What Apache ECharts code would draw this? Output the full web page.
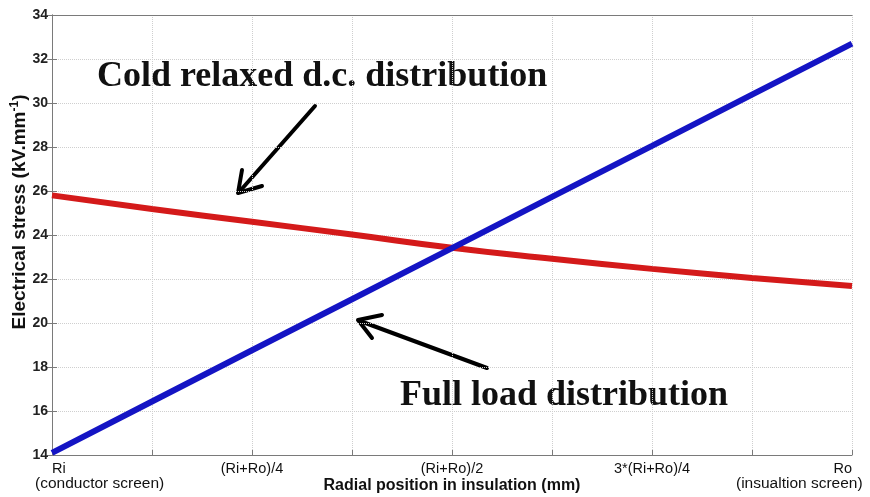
<!DOCTYPE html>
<html>
<head>
<meta charset="UTF-8">
<title>Electrical stress</title>
<script src="https://cdn.jsdelivr.net/npm/echarts@6/dist/echarts.min.js"></script>
<style>
  html, body { margin: 0; padding: 0; background: #fff; }
  #chart { width: 870px; height: 497px; }
</style>
</head>
<body>
<div id="chart"></div>
<script>
// positions along the insulation, in eighths of the radial span
const positions = [0, 1, 2, 3, 4, 5, 6, 7, 8];
const tickLabels = { 0: 'Ri', 2: '(Ri+Ro)/4', 4: '(Ri+Ro)/2', 6: '3*(Ri+Ro)/4', 8: 'Ro' };
const coldRelaxed = [25.8, 25.18, 24.6, 24.02, 23.42, 22.92, 22.46, 22.05, 21.68];
const fullLoad = [14.1, 16.43, 18.76, 21.08, 23.4, 25.73, 28.05, 30.38, 32.7];

const frame = '#7a7a7a';
const chart = echarts.init(document.getElementById('chart'), null, { renderer: 'canvas' });

function pairs(vals) {
  return positions.map((p, i) => [p, vals[i]]);
}

const sans = 'Arial, "Liberation Sans", sans-serif';
const serif = '"Liberation Serif", "Times New Roman", serif';

chart.setOption({
  animation: false,
  backgroundColor: '#fff',
  grid: { left: 52, right: 18, top: 15, bottom: 42, containLabel: false, outerBoundsMode: 'none' },
  xAxis: [{
    type: 'value', min: 0, max: 8, interval: 1,
    name: 'Radial position in insulation (mm)',
    nameLocation: 'middle', nameGap: 23, nameMoveOverlap: false,
    nameTextStyle: { fontFamily: sans, fontWeight: 'bold', fontSize: 16, color: '#111' },
    axisLine: { lineStyle: { color: frame } },
    axisTick: { inside: true, length: 5, lineStyle: { color: frame } },
    axisLabel: {
      fontFamily: sans, fontSize: 14.5, color: '#111', margin: 6,
      alignMinLabel: 'left', alignMaxLabel: 'right',
      formatter: v => tickLabels[v] || ''
    },
    splitLine: { show: true, lineStyle: { color: '#cfcfcf', type: 'dotted' } }
  }, {
    type: 'value', position: 'top', min: 0, max: 8, interval: 1,
    axisLine: { lineStyle: { color: frame } },
    axisTick: { show: false }, axisLabel: { show: false }, splitLine: { show: false }
  }],
  yAxis: [{
    type: 'value', min: 14, max: 34, interval: 2,
    name: '{a|Electrical stress (kV.mm}{s|-1}{a|)}',
    nameLocation: 'middle', nameGap: 22, nameMoveOverlap: false,
    nameTextStyle: {
      padding: [0, 0, 0, 46],
      rich: {
        a: { fontFamily: sans, fontWeight: 'bold', fontSize: 19, color: '#111' },
        s: { fontFamily: sans, fontWeight: 'bold', fontSize: 12, color: '#111', verticalAlign: 'top', padding: [0, 0, 9, 0] }
      }
    },
    axisLine: { show: true, lineStyle: { color: frame } },
    axisTick: { inside: true, length: 5, lineStyle: { color: frame } },
    axisLabel: { fontFamily: sans, fontWeight: 'bold', fontSize: 14, color: '#222', margin: 4 },
    splitLine: { show: true, lineStyle: { color: '#cfcfcf', type: 'dotted' } }
  }, {
    type: 'value', position: 'right', min: 14, max: 34, interval: 2,
    axisLine: { show: true, lineStyle: { color: frame } },
    axisTick: { show: true, inside: true, length: 5, lineStyle: { color: frame } },
    axisLabel: { show: false }, splitLine: { show: false }
  }],
  series: [{
    name: 'Cold relaxed d.c. distribution',
    type: 'line', data: pairs(coldRelaxed), smooth: true,
    showSymbol: false, lineStyle: { color: '#d41a1a', width: 6 }
  }, {
    name: 'Full load distribution',
    type: 'line', data: pairs(fullLoad),
    showSymbol: false, lineStyle: { color: '#1414c4', width: 6 }
  }],
  graphic: [
    { type: 'text', left: 35, top: 476,
      style: { text: '(conductor screen)', font: '15.5px ' + sans, fill: '#111' } },
    { type: 'text', left: 736, top: 476,
      style: { text: '(insualtion screen)', font: '15.5px ' + sans, fill: '#111' } },
    { type: 'text', left: 97, top: 59,
      style: { text: 'Cold relaxed d.c. distribution', font: 'bold 36px ' + serif, fill: '#111' } },
    { type: 'text', left: 400, top: 378,
      style: { text: 'Full load distribution', font: 'bold 36px ' + serif, fill: '#111' } },
    // arrow towards the cold relaxed curve
    { type: 'polyline', shape: { points: [[315, 106], [240, 191]] }, style: { stroke: '#000', lineWidth: 4, fill: null, lineCap: 'round' } },
    { type: 'polyline', shape: { points: [[242, 170], [238, 193], [262, 186]] }, style: { stroke: '#000', lineWidth: 4, fill: null, lineCap: 'round', lineJoin: 'round' } },
    // arrow towards the full load curve
    { type: 'polyline', shape: { points: [[487, 368], [360, 321]] }, style: { stroke: '#000', lineWidth: 4, fill: null, lineCap: 'round' } },
    { type: 'polyline', shape: { points: [[382, 315], [358, 320], [372, 338]] }, style: { stroke: '#000', lineWidth: 4, fill: null, lineCap: 'round', lineJoin: 'round' } }
  ]
});
</script>
</body>
</html>
